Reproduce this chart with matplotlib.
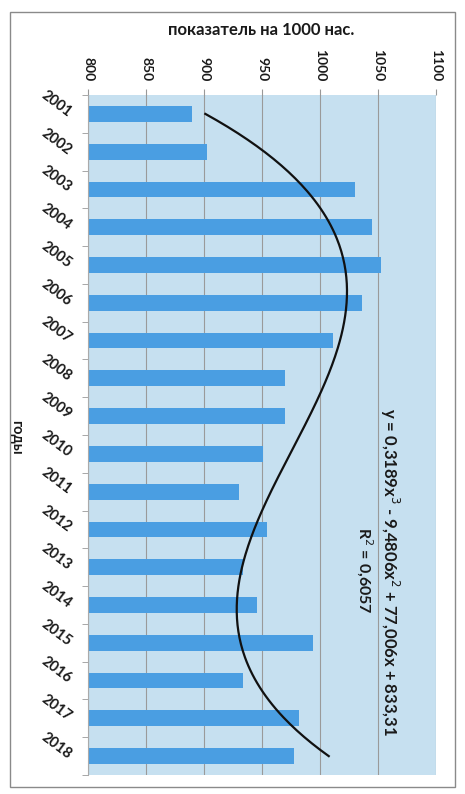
import matplotlib
matplotlib.use("Agg")
import matplotlib.pyplot as plt
import numpy as np
from matplotlib.patches import Rectangle

plt.rcParams['font.family'] = ['Lato', 'DejaVu Sans']

years = [str(y) for y in range(2001, 2019)]
values = [890, 903, 1030, 1045, 1053, 1036, 1011, 970, 970, 951,
          930, 954, 934, 946, 994, 934, 982, 978]
value_ticks = [800, 850, 900, 950, 1000, 1050, 1100]
trend_coef = [0.3189, -9.4806, 77.006, 833.31]  # cubic trend shown on chart
equation_text = "y = 0,3189x$^3$ - 9,4806x$^2$ + 77,006x + 833,31"
r2_text = "R$^2$ = 0,6057"
value_title = "показатель на 1000 нас."
cat_title = "годы"

fig = plt.figure(figsize=(4.65, 7.94), dpi=100)
fig.patch.set_facecolor('white')
ax = fig.add_axes([88/465, 1-775/794, (436-88)/465, (775-95)/794])
ax.set_facecolor('#c6e0f0')

pos = np.arange(1, len(years)+1)
ax.barh(pos, values, height=0.42, color='#4a9ee2', zorder=2)

xs = np.linspace(1, len(years), 300)
ax.plot(np.polyval(trend_coef, xs), xs, color='#111111', lw=1.6, zorder=3)

ax.set_xlim(value_ticks[0], value_ticks[-1])
ax.set_ylim(len(years)+0.5, 0.5)
ax.set_xticks(value_ticks)
ax.set_xticklabels([str(v) for v in value_ticks], rotation=-90,
                   fontsize=10, fontweight='bold', color='#1a1a1a')
ax.xaxis.tick_top()
ax.tick_params(axis='x', which='major', length=4, pad=6, color='#999999')
ax.grid(axis='x', color='#9a9a9a', lw=0.8, zorder=1)

ax.set_yticks(pos)
ax.set_yticklabels(years, rotation=-37, ha='right', va='center',
                   rotation_mode='anchor', fontsize=10.5, fontweight='bold',
                   color='#1a1a1a')
ax.set_yticks(np.arange(0.5, len(years)+1, 1), minor=True)
ax.tick_params(axis='y', which='major', length=0, pad=13)
ax.tick_params(axis='y', which='minor', length=4, color='#999999')

for s in ['right', 'bottom', 'top']:
    ax.spines[s].set_visible(False)
ax.spines['left'].set_color('#aaaaaa')
ax.spines['left'].set_linewidth(0.8)

fig.text(261/465, 1-30/794, value_title, ha='center', va='center',
         fontsize=12, fontweight='bold', color='#1a1a1a')
fig.text(16/465, 1-437/794, cat_title, ha='center', va='center',
         rotation=-90, fontsize=10.5, fontweight='bold', color='#1a1a1a')

fig.text(390/465, 1-572/794, equation_text, ha='center', va='center',
         rotation=-90, fontsize=12, fontweight='bold', color='#1a1a1a')
fig.text(364/465, 1-570/794, r2_text, ha='center', va='center',
         rotation=-90, fontsize=11.5, fontweight='bold', color='#1a1a1a')

fig.patches.append(Rectangle((10/465, 1-787/794), 445/465, (787-12)/794,
                             transform=fig.transFigure, fill=False,
                             edgecolor='#8a8a8a', lw=1.0))

fig.savefig('out.png', dpi=100, facecolor='white')
